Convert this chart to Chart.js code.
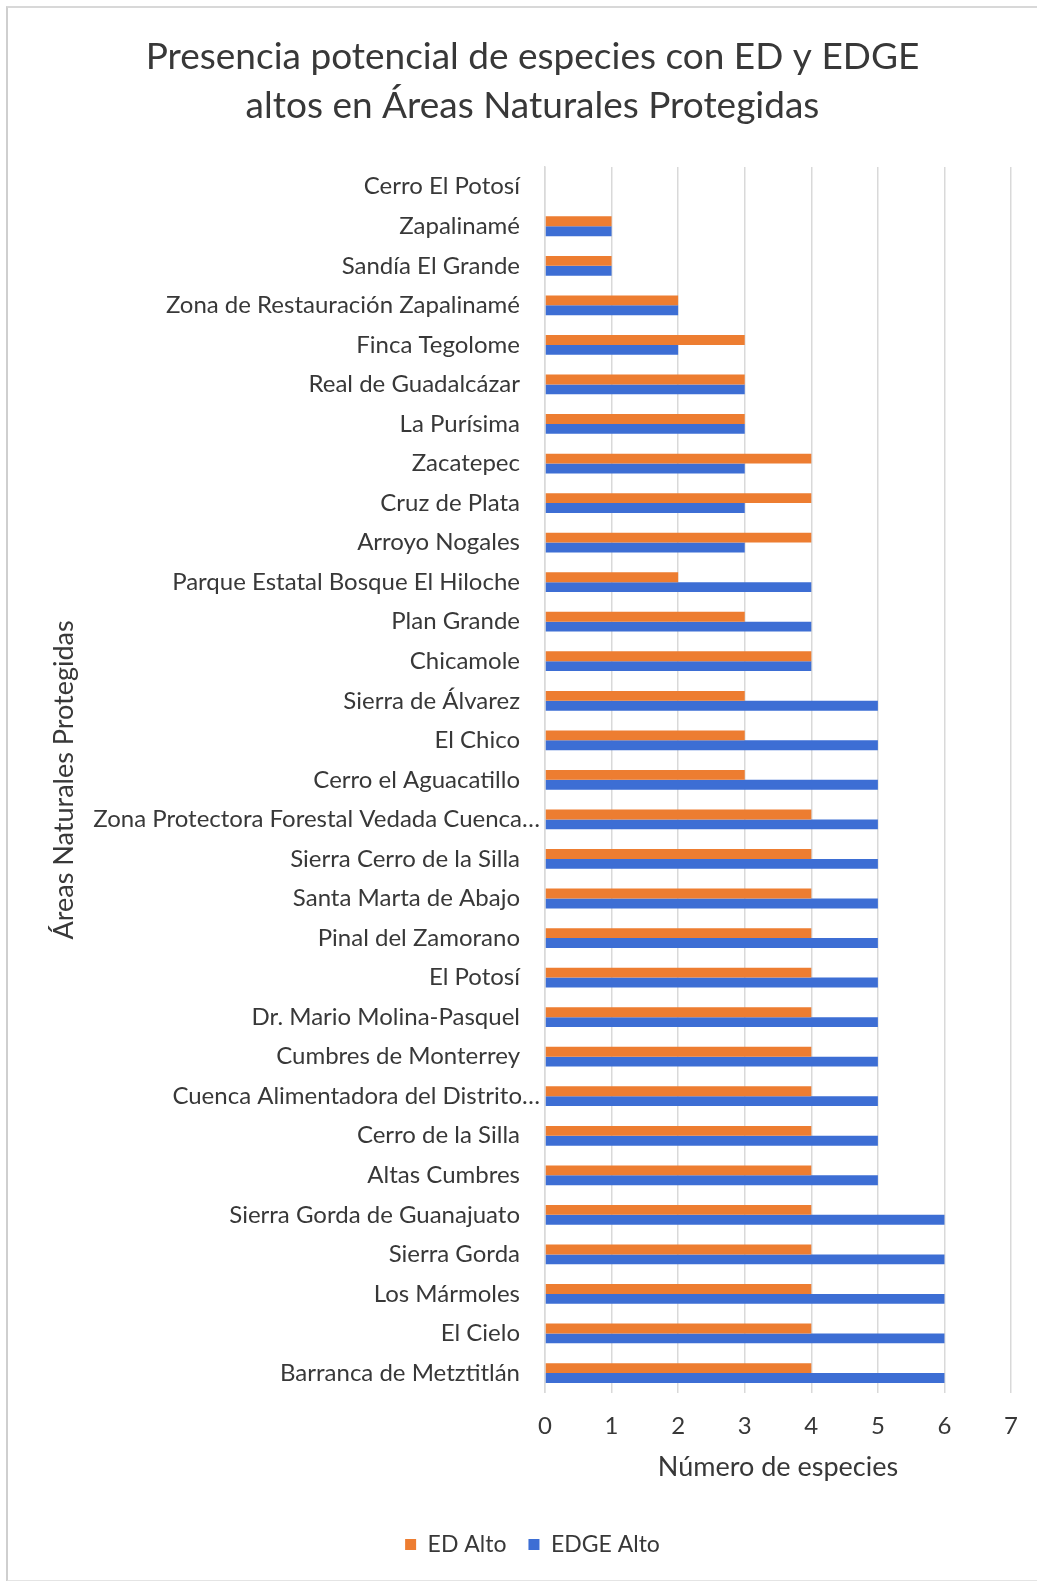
<!DOCTYPE html>
<html>
<head>
<meta charset="utf-8">
<script src="https://cdn.jsdelivr.net/npm/chart.js@4.4.0/dist/chart.umd.min.js"></script>
<style>
  html, body { margin: 0; padding: 0; background: #fff; }
  #marco {
    position: absolute; left: 6px; top: 6px; width: 1040px; height: 1572px;
    border-left: 2px solid #cfcfcf; border-top: 2px solid #d8d8d8; border-bottom: 2px solid #e4e4e4;
  }
  #wrap { position: absolute; left: 0; top: 0; width: 1037px; height: 1581px; }
</style>
</head>
<body>
<div id="marco"></div>
<div id="wrap"><canvas id="grafica"></canvas></div>
<script>
// áreas naturales protegidas (de arriba hacia abajo)
const areas = [
  "Cerro El Potosí",
  "Zapalinamé",
  "Sandía El Grande",
  "Zona de Restauración Zapalinamé",
  "Finca Tegolome",
  "Real de Guadalcázar",
  "La Purísima",
  "Zacatepec",
  "Cruz de Plata",
  "Arroyo Nogales",
  "Parque Estatal Bosque El Hiloche",
  "Plan Grande",
  "Chicamole",
  "Sierra de Álvarez",
  "El Chico",
  "Cerro el Aguacatillo",
  "Zona Protectora Forestal Vedada Cuenca…",
  "Sierra Cerro de la Silla",
  "Santa Marta de Abajo",
  "Pinal del Zamorano",
  "El Potosí",
  "Dr. Mario Molina-Pasquel",
  "Cumbres de Monterrey",
  "Cuenca Alimentadora del Distrito…",
  "Cerro de la Silla",
  "Altas Cumbres",
  "Sierra Gorda de Guanajuato",
  "Sierra Gorda",
  "Los Mármoles",
  "El Cielo",
  "Barranca de Metztitlán"
];

// número de especies por área
const edAlto = [0, 1, 1, 2, 3, 3, 3, 4, 4, 4, 2, 3, 4, 3, 3, 3, 4, 4, 4, 4, 4, 4, 4, 4, 4, 4, 4, 4, 4, 4, 4];
const edgeAlto = [0, 1, 1, 2, 2, 3, 3, 3, 3, 3, 4, 4, 4, 5, 5, 5, 5, 5, 5, 5, 5, 5, 5, 5, 5, 5, 6, 6, 6, 6, 6];

const ticksX = [0, 1, 2, 3, 4, 5, 6, 7];

const fuente = "Lato, 'Open Sans', sans-serif";
const gris = "#383838";

// etiquetas del eje Y: las recortadas con "…" quedan más pegadas al eje
const etiquetasY = {
  id: "etiquetasY",
  afterDraw(chart) {
    const y = chart.scales.y;
    const ctx = chart.ctx;
    ctx.save();
    ctx.font = "24px " + fuente;
    ctx.fillStyle = gris;
    ctx.textAlign = "right";
    ctx.textBaseline = "middle";
    chart.data.labels.forEach((txt, i) => {
      const sep = txt.endsWith("…") ? 5 : 25;
      ctx.fillText(txt, y.right - sep, y.getPixelForTick(i));
    });
    ctx.restore();
  }
};

const dataDiagram = {
  labels: areas,
  datasets: [
    {
      label: "ED Alto",
      backgroundColor: "#ED7D31",
      data: edAlto,
      categoryPercentage: 0.5,
      barPercentage: 1.0
    },
    {
      label: "EDGE Alto",
      backgroundColor: "#3D6ED4",
      data: edgeAlto,
      categoryPercentage: 0.5,
      barPercentage: 1.0
    }
  ]
};

const config = {
  type: "bar",
  data: dataDiagram,
  plugins: [etiquetasY],
  options: {
    indexAxis: "y",
    responsive: false,
    animation: false,
    layout: { padding: { left: 53, right: 25, top: 33, bottom: 15 } },
    plugins: {
      title: {
        display: true,
        text: ["Presencia potencial de especies con ED y EDGE", "altos en Áreas Naturales Protegidas"],
        color: gris,
        font: { family: fuente, size: 37, weight: "normal", lineHeight: 1.31 },
        padding: { top: 0, bottom: 37 }
      },
      legend: {
        position: "bottom",
        labels: {
          color: gris,
          font: { family: fuente, size: 23 },
          boxWidth: 11,
          boxHeight: 11,
          padding: 22
        }
      },
      tooltip: { enabled: false }
    },
    scales: {
      x: {
        min: 0,
        max: 7,
        afterBuildTicks: function(scale) {
          scale.ticks = ticksX.map(v => ({ value: v }));
        },
        grid: { color: "#d9d9d9", lineWidth: 1.5, drawTicks: false },
        border: { display: false },
        ticks: { color: gris, font: { family: fuente, size: 24 }, padding: 19 },
        title: {
          display: true,
          text: "Número de especies",
          color: gris,
          font: { family: fuente, size: 27 },
          padding: { top: -9, bottom: 28 }
        }
      },
      y: {
        grid: { display: false, drawTicks: false },
        border: { display: true, color: "#d9d9d9", width: 1.5 },
        ticks: { display: false },
        title: {
          display: true,
          text: "Áreas Naturales Protegidas",
          color: gris,
          font: { family: fuente, size: 27 },
          padding: { top: -5, bottom: 0 }
        },
        afterFit: function(scale) {
          scale.width = 492;
        }
      }
    }
  }
};

const lienzo = document.getElementById("grafica");
lienzo.width = 1037;
lienzo.height = 1581;
new Chart(lienzo, config);
</script>
</body>
</html>
